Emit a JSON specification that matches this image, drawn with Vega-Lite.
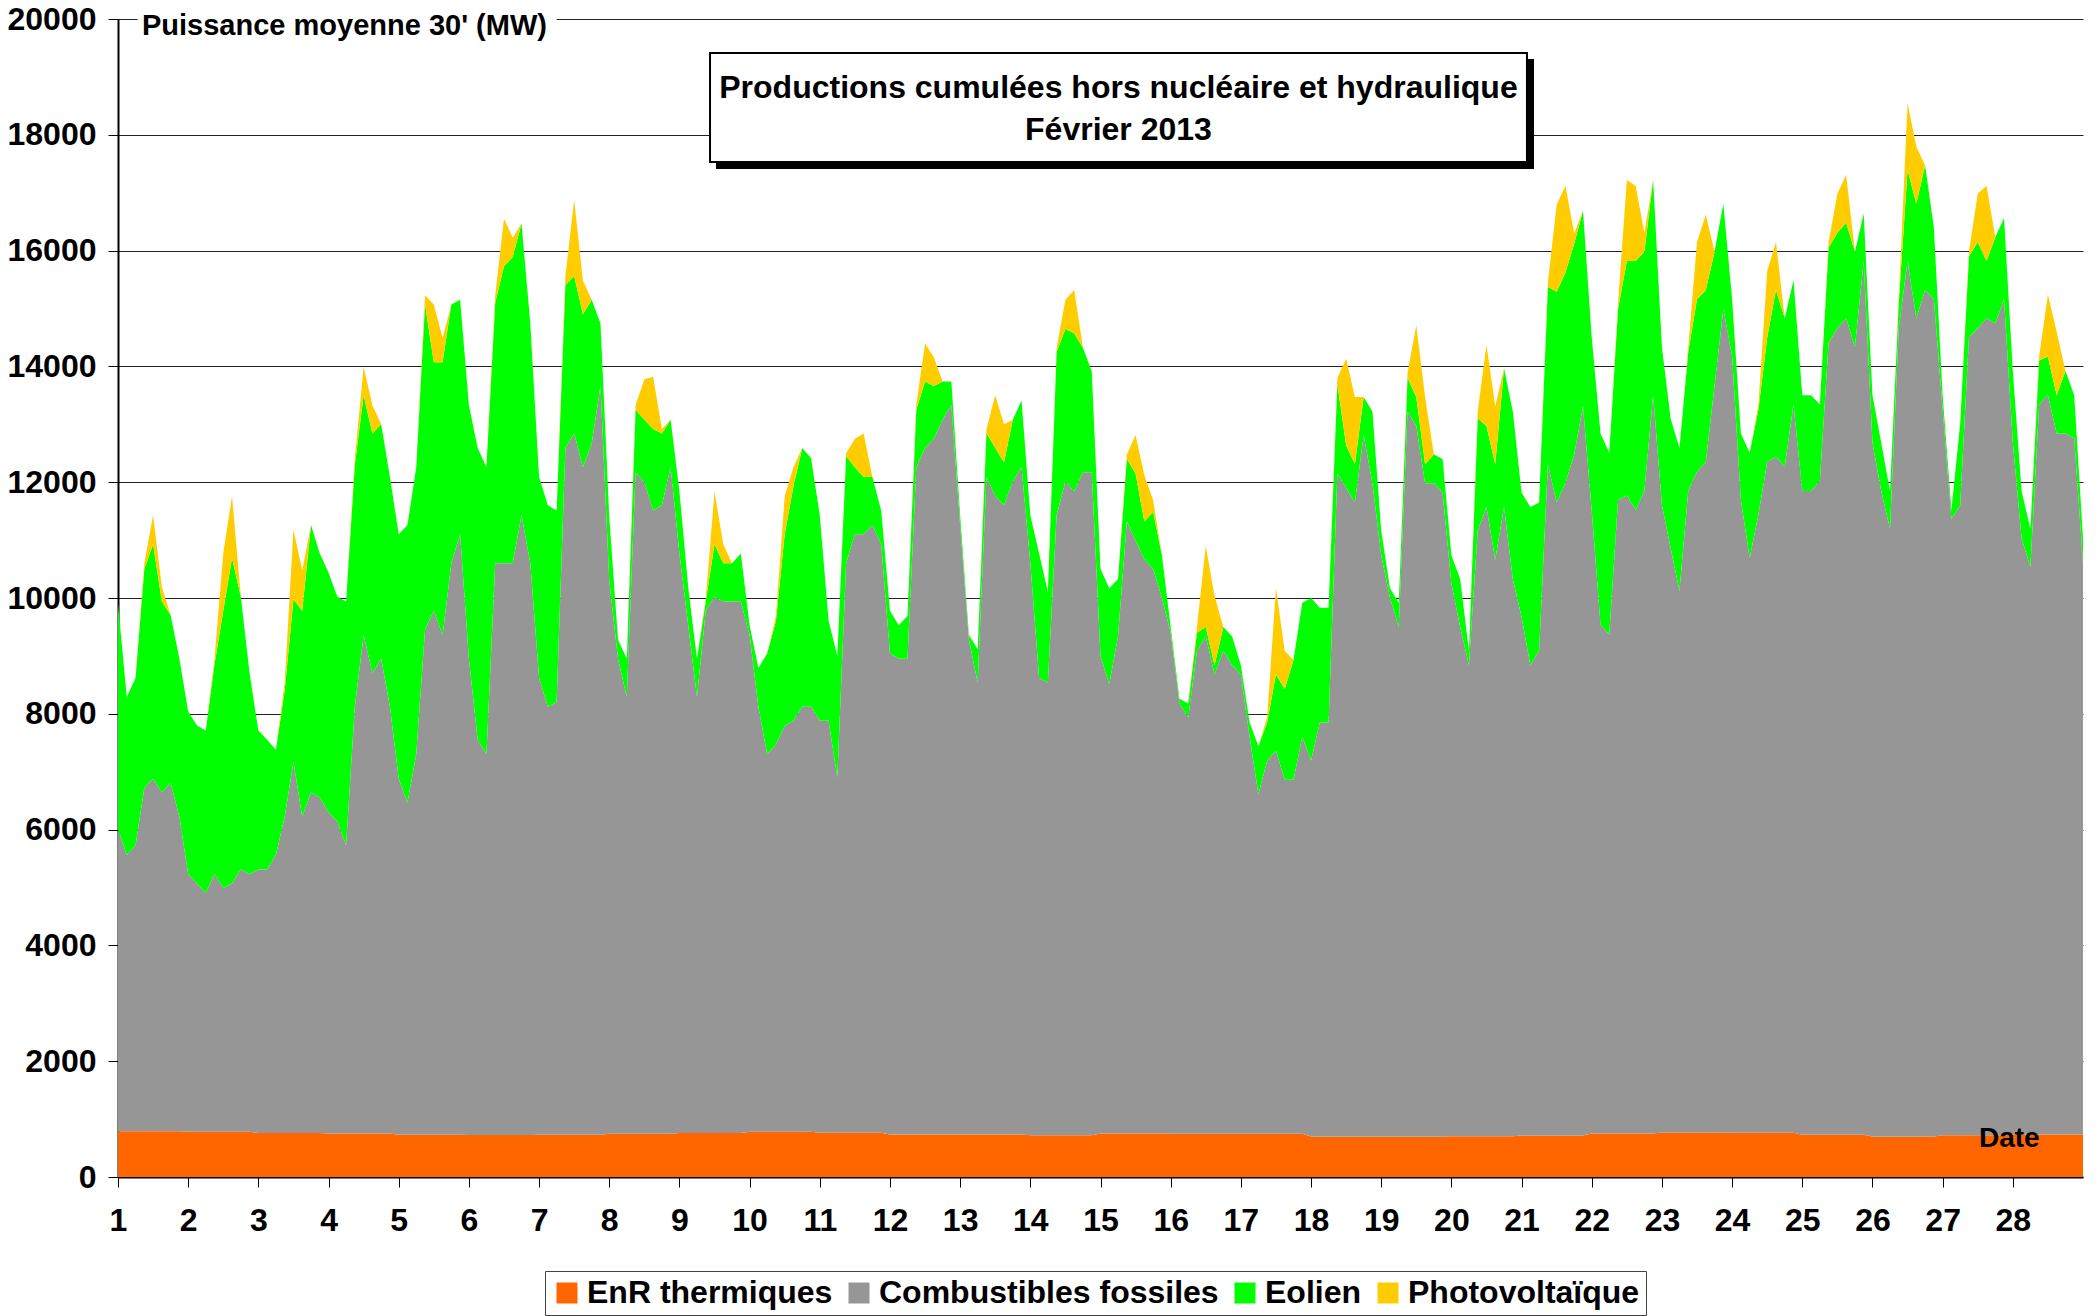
{
"$schema": "https://vega.github.io/schema/vega-lite/v6.json",
"width": 1965, "height": 1158,
"autosize": {"type": "none"},
"padding": {"left": 118, "top": 19, "right": 15, "bottom": 139},
"background": "white",
"config": {"view": {"stroke": null}, "font": "Liberation Sans"},
"datasets": {"prod": [
{"t":1,"a_enr":790,"b_fossile":5210,"c_eolien":3900,"d_pv":0},
{"t":1.125,"a_enr":790,"b_fossile":4770,"c_eolien":2730,"d_pv":0},
{"t":1.25,"a_enr":790,"b_fossile":4940,"c_eolien":2890,"d_pv":0},
{"t":1.375,"a_enr":790,"b_fossile":5930,"c_eolien":3780,"d_pv":100},
{"t":1.5,"a_enr":790,"b_fossile":6090,"c_eolien":4050,"d_pv":500},
{"t":1.625,"a_enr":790,"b_fossile":5850,"c_eolien":3300,"d_pv":250},
{"t":1.75,"a_enr":790,"b_fossile":6010,"c_eolien":2900,"d_pv":0},
{"t":1.875,"a_enr":790,"b_fossile":5430,"c_eolien":2730,"d_pv":0},
{"t":2,"a_enr":780,"b_fossile":4450,"c_eolien":2810,"d_pv":0},
{"t":2.125,"a_enr":780,"b_fossile":4290,"c_eolien":2730,"d_pv":0},
{"t":2.25,"a_enr":780,"b_fossile":4120,"c_eolien":2810,"d_pv":0},
{"t":2.375,"a_enr":780,"b_fossile":4450,"c_eolien":3620,"d_pv":100},
{"t":2.5,"a_enr":780,"b_fossile":4210,"c_eolien":4790,"d_pv":990},
{"t":2.625,"a_enr":780,"b_fossile":4290,"c_eolien":5620,"d_pv":1070},
{"t":2.75,"a_enr":780,"b_fossile":4530,"c_eolien":4710,"d_pv":0},
{"t":2.875,"a_enr":780,"b_fossile":4450,"c_eolien":3470,"d_pv":0},
{"t":3,"a_enr":760,"b_fossile":4550,"c_eolien":2400,"d_pv":0},
{"t":3.125,"a_enr":760,"b_fossile":4550,"c_eolien":2240,"d_pv":0},
{"t":3.25,"a_enr":760,"b_fossile":4800,"c_eolien":1820,"d_pv":0},
{"t":3.375,"a_enr":760,"b_fossile":5460,"c_eolien":2180,"d_pv":140},
{"t":3.5,"a_enr":760,"b_fossile":6410,"c_eolien":2810,"d_pv":1200},
{"t":3.625,"a_enr":760,"b_fossile":5460,"c_eolien":3560,"d_pv":700},
{"t":3.75,"a_enr":760,"b_fossile":5880,"c_eolien":4620,"d_pv":0},
{"t":3.875,"a_enr":760,"b_fossile":5790,"c_eolien":4220,"d_pv":0},
{"t":4,"a_enr":750,"b_fossile":5550,"c_eolien":4140,"d_pv":0},
{"t":4.125,"a_enr":750,"b_fossile":5390,"c_eolien":3880,"d_pv":0},
{"t":4.25,"a_enr":750,"b_fossile":4980,"c_eolien":4210,"d_pv":0},
{"t":4.375,"a_enr":750,"b_fossile":7370,"c_eolien":4180,"d_pv":120},
{"t":4.5,"a_enr":750,"b_fossile":8610,"c_eolien":4140,"d_pv":490},
{"t":4.625,"a_enr":750,"b_fossile":7950,"c_eolien":4140,"d_pv":490},
{"t":4.75,"a_enr":750,"b_fossile":8200,"c_eolien":4050,"d_pv":0},
{"t":4.875,"a_enr":750,"b_fossile":7370,"c_eolien":3970,"d_pv":0},
{"t":5,"a_enr":730,"b_fossile":6150,"c_eolien":4220,"d_pv":0},
{"t":5.125,"a_enr":730,"b_fossile":5740,"c_eolien":4790,"d_pv":0},
{"t":5.25,"a_enr":730,"b_fossile":6570,"c_eolien":4960,"d_pv":0},
{"t":5.375,"a_enr":730,"b_fossile":8720,"c_eolien":5620,"d_pv":160},
{"t":5.5,"a_enr":730,"b_fossile":9050,"c_eolien":4290,"d_pv":1000},
{"t":5.625,"a_enr":730,"b_fossile":8630,"c_eolien":4710,"d_pv":420},
{"t":5.75,"a_enr":730,"b_fossile":9870,"c_eolien":4470,"d_pv":0},
{"t":5.875,"a_enr":730,"b_fossile":10370,"c_eolien":4050,"d_pv":0},
{"t":6,"a_enr":725,"b_fossile":8225,"c_eolien":4380,"d_pv":0},
{"t":6.125,"a_enr":725,"b_fossile":6825,"c_eolien":5040,"d_pv":0},
{"t":6.25,"a_enr":725,"b_fossile":6575,"c_eolien":4960,"d_pv":0},
{"t":6.375,"a_enr":725,"b_fossile":9875,"c_eolien":4500,"d_pv":130},
{"t":6.5,"a_enr":725,"b_fossile":9875,"c_eolien":5130,"d_pv":820},
{"t":6.625,"a_enr":725,"b_fossile":9875,"c_eolien":5290,"d_pv":330},
{"t":6.75,"a_enr":725,"b_fossile":10705,"c_eolien":5040,"d_pv":0},
{"t":6.875,"a_enr":725,"b_fossile":9875,"c_eolien":4140,"d_pv":0},
{"t":7,"a_enr":730,"b_fossile":7890,"c_eolien":3470,"d_pv":0},
{"t":7.125,"a_enr":730,"b_fossile":7390,"c_eolien":3480,"d_pv":0},
{"t":7.25,"a_enr":730,"b_fossile":7470,"c_eolien":3310,"d_pv":0},
{"t":7.375,"a_enr":730,"b_fossile":11860,"c_eolien":2810,"d_pv":160},
{"t":7.5,"a_enr":730,"b_fossile":12110,"c_eolien":2720,"d_pv":1320},
{"t":7.625,"a_enr":730,"b_fossile":11530,"c_eolien":2640,"d_pv":580},
{"t":7.75,"a_enr":730,"b_fossile":11940,"c_eolien":2480,"d_pv":0},
{"t":7.875,"a_enr":730,"b_fossile":12930,"c_eolien":1080,"d_pv":0},
{"t":8,"a_enr":745,"b_fossile":9555,"c_eolien":1100,"d_pv":0},
{"t":8.125,"a_enr":745,"b_fossile":8205,"c_eolien":330,"d_pv":0},
{"t":8.25,"a_enr":745,"b_fossile":7545,"c_eolien":660,"d_pv":0},
{"t":8.375,"a_enr":745,"b_fossile":11425,"c_eolien":1080,"d_pv":80},
{"t":8.5,"a_enr":745,"b_fossile":11255,"c_eolien":1080,"d_pv":700},
{"t":8.625,"a_enr":745,"b_fossile":10765,"c_eolien":1410,"d_pv":900},
{"t":8.75,"a_enr":745,"b_fossile":10855,"c_eolien":1240,"d_pv":80},
{"t":8.875,"a_enr":745,"b_fossile":11515,"c_eolien":820,"d_pv":0},
{"t":9,"a_enr":760,"b_fossile":10010,"c_eolien":1070,"d_pv":0},
{"t":9.125,"a_enr":760,"b_fossile":8770,"c_eolien":660,"d_pv":0},
{"t":9.25,"a_enr":760,"b_fossile":7530,"c_eolien":660,"d_pv":0},
{"t":9.375,"a_enr":760,"b_fossile":9020,"c_eolien":160,"d_pv":50},
{"t":9.5,"a_enr":760,"b_fossile":9260,"c_eolien":910,"d_pv":900},
{"t":9.625,"a_enr":760,"b_fossile":9180,"c_eolien":660,"d_pv":330},
{"t":9.75,"a_enr":760,"b_fossile":9180,"c_eolien":660,"d_pv":0},
{"t":9.875,"a_enr":760,"b_fossile":9180,"c_eolien":830,"d_pv":0},
{"t":10,"a_enr":780,"b_fossile":8580,"c_eolien":170,"d_pv":0},
{"t":10.125,"a_enr":780,"b_fossile":7340,"c_eolien":670,"d_pv":0},
{"t":10.25,"a_enr":780,"b_fossile":6520,"c_eolien":1740,"d_pv":0},
{"t":10.375,"a_enr":780,"b_fossile":6690,"c_eolien":2130,"d_pv":90},
{"t":10.5,"a_enr":780,"b_fossile":7010,"c_eolien":3310,"d_pv":660},
{"t":10.625,"a_enr":780,"b_fossile":7100,"c_eolien":4050,"d_pv":330},
{"t":10.75,"a_enr":780,"b_fossile":7340,"c_eolien":4470,"d_pv":0},
{"t":10.875,"a_enr":780,"b_fossile":7340,"c_eolien":4300,"d_pv":0},
{"t":11,"a_enr":765,"b_fossile":7115,"c_eolien":3550,"d_pv":0},
{"t":11.125,"a_enr":765,"b_fossile":7115,"c_eolien":1730,"d_pv":0},
{"t":11.25,"a_enr":765,"b_fossile":6135,"c_eolien":2100,"d_pv":0},
{"t":11.375,"a_enr":765,"b_fossile":9835,"c_eolien":1850,"d_pv":50},
{"t":11.5,"a_enr":765,"b_fossile":10335,"c_eolien":1160,"d_pv":490},
{"t":11.625,"a_enr":765,"b_fossile":10335,"c_eolien":990,"d_pv":750},
{"t":11.75,"a_enr":765,"b_fossile":10495,"c_eolien":830,"d_pv":0},
{"t":11.875,"a_enr":765,"b_fossile":10165,"c_eolien":580,"d_pv":0},
{"t":12,"a_enr":735,"b_fossile":8305,"c_eolien":740,"d_pv":0},
{"t":12.125,"a_enr":735,"b_fossile":8215,"c_eolien":580,"d_pv":0},
{"t":12.25,"a_enr":735,"b_fossile":8215,"c_eolien":740,"d_pv":0},
{"t":12.375,"a_enr":735,"b_fossile":11525,"c_eolien":990,"d_pv":80},
{"t":12.5,"a_enr":735,"b_fossile":11855,"c_eolien":1150,"d_pv":660},
{"t":12.625,"a_enr":735,"b_fossile":12015,"c_eolien":910,"d_pv":500},
{"t":12.75,"a_enr":735,"b_fossile":12345,"c_eolien":660,"d_pv":0},
{"t":12.875,"a_enr":735,"b_fossile":12595,"c_eolien":410,"d_pv":0},
{"t":13,"a_enr":735,"b_fossile":10525,"c_eolien":170,"d_pv":0},
{"t":13.125,"a_enr":735,"b_fossile":8545,"c_eolien":80,"d_pv":0},
{"t":13.25,"a_enr":735,"b_fossile":7805,"c_eolien":580,"d_pv":0},
{"t":13.375,"a_enr":735,"b_fossile":11355,"c_eolien":760,"d_pv":70},
{"t":13.5,"a_enr":735,"b_fossile":11025,"c_eolien":830,"d_pv":910},
{"t":13.625,"a_enr":735,"b_fossile":10865,"c_eolien":740,"d_pv":660},
{"t":13.75,"a_enr":735,"b_fossile":11275,"c_eolien":1070,"d_pv":0},
{"t":13.875,"a_enr":735,"b_fossile":11525,"c_eolien":1150,"d_pv":0},
{"t":14,"a_enr":720,"b_fossile":9880,"c_eolien":830,"d_pv":0},
{"t":14.125,"a_enr":720,"b_fossile":7900,"c_eolien":2150,"d_pv":0},
{"t":14.25,"a_enr":720,"b_fossile":7820,"c_eolien":1570,"d_pv":0},
{"t":14.375,"a_enr":720,"b_fossile":10710,"c_eolien":2820,"d_pv":70},
{"t":14.5,"a_enr":720,"b_fossile":11290,"c_eolien":2640,"d_pv":500},
{"t":14.625,"a_enr":720,"b_fossile":11120,"c_eolien":2730,"d_pv":750},
{"t":14.75,"a_enr":720,"b_fossile":11450,"c_eolien":2150,"d_pv":0},
{"t":14.875,"a_enr":720,"b_fossile":11450,"c_eolien":1740,"d_pv":0},
{"t":15,"a_enr":750,"b_fossile":8250,"c_eolien":1500,"d_pv":0},
{"t":15.125,"a_enr":750,"b_fossile":7760,"c_eolien":1660,"d_pv":0},
{"t":15.25,"a_enr":750,"b_fossile":8590,"c_eolien":990,"d_pv":0},
{"t":15.375,"a_enr":750,"b_fossile":10570,"c_eolien":1080,"d_pv":80},
{"t":15.5,"a_enr":750,"b_fossile":10240,"c_eolien":1160,"d_pv":660},
{"t":15.625,"a_enr":750,"b_fossile":9910,"c_eolien":660,"d_pv":800},
{"t":15.75,"a_enr":750,"b_fossile":9750,"c_eolien":990,"d_pv":200},
{"t":15.875,"a_enr":750,"b_fossile":9250,"c_eolien":740,"d_pv":0},
{"t":16,"a_enr":745,"b_fossile":8655,"c_eolien":100,"d_pv":0},
{"t":16.125,"a_enr":745,"b_fossile":7435,"c_eolien":80,"d_pv":0},
{"t":16.25,"a_enr":745,"b_fossile":7185,"c_eolien":250,"d_pv":0},
{"t":16.375,"a_enr":745,"b_fossile":8345,"c_eolien":310,"d_pv":100},
{"t":16.5,"a_enr":745,"b_fossile":8595,"c_eolien":160,"d_pv":1400},
{"t":16.625,"a_enr":745,"b_fossile":7935,"c_eolien":160,"d_pv":1200},
{"t":16.75,"a_enr":745,"b_fossile":8345,"c_eolien":410,"d_pv":0},
{"t":16.875,"a_enr":745,"b_fossile":8095,"c_eolien":500,"d_pv":0},
{"t":17,"a_enr":745,"b_fossile":7935,"c_eolien":160,"d_pv":0},
{"t":17.125,"a_enr":745,"b_fossile":6855,"c_eolien":250,"d_pv":0},
{"t":17.25,"a_enr":745,"b_fossile":5865,"c_eolien":830,"d_pv":0},
{"t":17.375,"a_enr":745,"b_fossile":6445,"c_eolien":660,"d_pv":100},
{"t":17.5,"a_enr":745,"b_fossile":6615,"c_eolien":1320,"d_pv":1490},
{"t":17.625,"a_enr":745,"b_fossile":6115,"c_eolien":1570,"d_pv":660},
{"t":17.75,"a_enr":745,"b_fossile":6115,"c_eolien":2070,"d_pv":0},
{"t":17.875,"a_enr":745,"b_fossile":6855,"c_eolien":2320,"d_pv":0},
{"t":18,"a_enr":700,"b_fossile":6490,"c_eolien":2810,"d_pv":0},
{"t":18.125,"a_enr":700,"b_fossile":7150,"c_eolien":1980,"d_pv":0},
{"t":18.25,"a_enr":700,"b_fossile":7150,"c_eolien":1980,"d_pv":0},
{"t":18.375,"a_enr":700,"b_fossile":11450,"c_eolien":1550,"d_pv":100},
{"t":18.5,"a_enr":700,"b_fossile":11200,"c_eolien":740,"d_pv":1490},
{"t":18.625,"a_enr":700,"b_fossile":10950,"c_eolien":660,"d_pv":1160},
{"t":18.75,"a_enr":700,"b_fossile":12110,"c_eolien":660,"d_pv":0},
{"t":18.875,"a_enr":700,"b_fossile":11280,"c_eolien":1240,"d_pv":0},
{"t":19,"a_enr":700,"b_fossile":10040,"c_eolien":420,"d_pv":0},
{"t":19.125,"a_enr":700,"b_fossile":9300,"c_eolien":170,"d_pv":0},
{"t":19.25,"a_enr":700,"b_fossile":8800,"c_eolien":420,"d_pv":0},
{"t":19.375,"a_enr":700,"b_fossile":12520,"c_eolien":580,"d_pv":90},
{"t":19.5,"a_enr":700,"b_fossile":12270,"c_eolien":500,"d_pv":1240},
{"t":19.625,"a_enr":700,"b_fossile":11280,"c_eolien":330,"d_pv":1160},
{"t":19.75,"a_enr":700,"b_fossile":11280,"c_eolien":500,"d_pv":0},
{"t":19.875,"a_enr":700,"b_fossile":11120,"c_eolien":580,"d_pv":0},
{"t":20,"a_enr":705,"b_fossile":9545,"c_eolien":490,"d_pv":0},
{"t":20.125,"a_enr":705,"b_fossile":8795,"c_eolien":830,"d_pv":0},
{"t":20.25,"a_enr":705,"b_fossile":8135,"c_eolien":250,"d_pv":0},
{"t":20.375,"a_enr":705,"b_fossile":10455,"c_eolien":1940,"d_pv":120},
{"t":20.5,"a_enr":705,"b_fossile":10865,"c_eolien":1400,"d_pv":1400},
{"t":20.625,"a_enr":705,"b_fossile":9955,"c_eolien":1650,"d_pv":1000},
{"t":20.75,"a_enr":705,"b_fossile":10865,"c_eolien":2400,"d_pv":0},
{"t":20.875,"a_enr":705,"b_fossile":9625,"c_eolien":2890,"d_pv":0},
{"t":21,"a_enr":715,"b_fossile":8955,"c_eolien":2150,"d_pv":0},
{"t":21.125,"a_enr":715,"b_fossile":8125,"c_eolien":2730,"d_pv":0},
{"t":21.25,"a_enr":715,"b_fossile":8375,"c_eolien":2560,"d_pv":0},
{"t":21.375,"a_enr":715,"b_fossile":11595,"c_eolien":3060,"d_pv":80},
{"t":21.5,"a_enr":715,"b_fossile":10935,"c_eolien":3640,"d_pv":1500},
{"t":21.625,"a_enr":715,"b_fossile":11265,"c_eolien":3640,"d_pv":1500},
{"t":21.75,"a_enr":715,"b_fossile":11765,"c_eolien":3640,"d_pv":180},
{"t":21.875,"a_enr":715,"b_fossile":12595,"c_eolien":3380,"d_pv":0},
{"t":22,"a_enr":750,"b_fossile":10750,"c_eolien":3000,"d_pv":0},
{"t":22.125,"a_enr":750,"b_fossile":8790,"c_eolien":3300,"d_pv":0},
{"t":22.25,"a_enr":750,"b_fossile":8620,"c_eolien":3140,"d_pv":0},
{"t":22.375,"a_enr":750,"b_fossile":10940,"c_eolien":3300,"d_pv":110},
{"t":22.5,"a_enr":750,"b_fossile":11020,"c_eolien":4050,"d_pv":1400},
{"t":22.625,"a_enr":750,"b_fossile":10770,"c_eolien":4300,"d_pv":1300},
{"t":22.75,"a_enr":750,"b_fossile":11100,"c_eolien":4130,"d_pv":330},
{"t":22.875,"a_enr":750,"b_fossile":12750,"c_eolien":3720,"d_pv":0},
{"t":23,"a_enr":770,"b_fossile":10830,"c_eolien":2730,"d_pv":0},
{"t":23.125,"a_enr":770,"b_fossile":10090,"c_eolien":2230,"d_pv":0},
{"t":23.25,"a_enr":770,"b_fossile":9350,"c_eolien":2470,"d_pv":0},
{"t":23.375,"a_enr":770,"b_fossile":11080,"c_eolien":2400,"d_pv":80},
{"t":23.5,"a_enr":770,"b_fossile":11410,"c_eolien":2980,"d_pv":990},
{"t":23.625,"a_enr":770,"b_fossile":11580,"c_eolien":2970,"d_pv":1300},
{"t":23.75,"a_enr":770,"b_fossile":12900,"c_eolien":2310,"d_pv":0},
{"t":23.875,"a_enr":770,"b_fossile":14220,"c_eolien":1820,"d_pv":0},
{"t":24,"a_enr":765,"b_fossile":13405,"c_eolien":990,"d_pv":0},
{"t":24.125,"a_enr":765,"b_fossile":10925,"c_eolien":1150,"d_pv":0},
{"t":24.25,"a_enr":765,"b_fossile":9925,"c_eolien":1820,"d_pv":0},
{"t":24.375,"a_enr":765,"b_fossile":10675,"c_eolien":1810,"d_pv":90},
{"t":24.5,"a_enr":765,"b_fossile":11585,"c_eolien":2150,"d_pv":1150},
{"t":24.625,"a_enr":765,"b_fossile":11675,"c_eolien":2880,"d_pv":830},
{"t":24.75,"a_enr":765,"b_fossile":11505,"c_eolien":2560,"d_pv":0},
{"t":24.875,"a_enr":765,"b_fossile":12575,"c_eolien":2150,"d_pv":0},
{"t":25,"a_enr":730,"b_fossile":11120,"c_eolien":1650,"d_pv":0},
{"t":25.125,"a_enr":730,"b_fossile":11120,"c_eolien":1650,"d_pv":0},
{"t":25.25,"a_enr":730,"b_fossile":11290,"c_eolien":1320,"d_pv":0},
{"t":25.375,"a_enr":730,"b_fossile":13680,"c_eolien":1640,"d_pv":100},
{"t":25.5,"a_enr":730,"b_fossile":13930,"c_eolien":1650,"d_pv":670},
{"t":25.625,"a_enr":730,"b_fossile":14100,"c_eolien":1650,"d_pv":830},
{"t":25.75,"a_enr":730,"b_fossile":13600,"c_eolien":1650,"d_pv":0},
{"t":25.875,"a_enr":730,"b_fossile":15090,"c_eolien":820,"d_pv":0},
{"t":26,"a_enr":700,"b_fossile":11980,"c_eolien":820,"d_pv":0},
{"t":26.125,"a_enr":700,"b_fossile":11150,"c_eolien":830,"d_pv":0},
{"t":26.25,"a_enr":700,"b_fossile":10490,"c_eolien":660,"d_pv":0},
{"t":26.375,"a_enr":700,"b_fossile":13960,"c_eolien":440,"d_pv":60},
{"t":26.5,"a_enr":700,"b_fossile":15120,"c_eolien":1570,"d_pv":1160},
{"t":26.625,"a_enr":700,"b_fossile":14130,"c_eolien":1980,"d_pv":990},
{"t":26.75,"a_enr":700,"b_fossile":14620,"c_eolien":2150,"d_pv":0},
{"t":26.875,"a_enr":700,"b_fossile":14460,"c_eolien":1240,"d_pv":0},
{"t":27,"a_enr":720,"b_fossile":12540,"c_eolien":240,"d_pv":0},
{"t":27.125,"a_enr":720,"b_fossile":10640,"c_eolien":160,"d_pv":0},
{"t":27.25,"a_enr":720,"b_fossile":10880,"c_eolien":1410,"d_pv":0},
{"t":27.375,"a_enr":720,"b_fossile":13780,"c_eolien":1400,"d_pv":80},
{"t":27.5,"a_enr":720,"b_fossile":13940,"c_eolien":1490,"d_pv":830},
{"t":27.625,"a_enr":720,"b_fossile":14110,"c_eolien":990,"d_pv":1300},
{"t":27.75,"a_enr":720,"b_fossile":14020,"c_eolien":1490,"d_pv":0},
{"t":27.875,"a_enr":720,"b_fossile":14440,"c_eolien":1400,"d_pv":0},
{"t":28,"a_enr":735,"b_fossile":11945,"c_eolien":1240,"d_pv":0},
{"t":28.125,"a_enr":735,"b_fossile":10295,"c_eolien":820,"d_pv":0},
{"t":28.25,"a_enr":735,"b_fossile":9795,"c_eolien":660,"d_pv":0},
{"t":28.375,"a_enr":735,"b_fossile":12605,"c_eolien":760,"d_pv":70},
{"t":28.5,"a_enr":735,"b_fossile":12765,"c_eolien":670,"d_pv":1070},
{"t":28.625,"a_enr":735,"b_fossile":12105,"c_eolien":660,"d_pv":1100},
{"t":28.75,"a_enr":735,"b_fossile":12105,"c_eolien":1080,"d_pv":0},
{"t":28.875,"a_enr":735,"b_fossile":12025,"c_eolien":740,"d_pv":0},
{"t":29,"a_enr":735,"b_fossile":9875,"c_eolien":420,"d_pv":0}
]},
"layer": [
{
"data": {"name": "prod"},
"transform": [{"fold": ["a_enr","b_fossile","c_eolien","d_pv"], "as": ["filiere","mw"]}],
"mark": {"type": "area", "interpolate": "linear"},
"encoding": {
"x": {"field": "t", "type": "quantitative",
"scale": {"domain": [1,29], "nice": false, "zero": false},
"axis": {"title": null, "grid": false,
"values": [1,1.5,2,2.5,3,3.5,4,4.5,5,5.5,6,6.5,7,7.5,8,8.5,9,9.5,10,10.5,11,11.5,12,12.5,13,13.5,14,14.5,15,15.5,16,16.5,17,17.5,18,18.5,19,19.5,20,20.5,21,21.5,22,22.5,23,23.5,24,24.5,25,25.5,26,26.5,27,27.5,28,28.5],
"labelExpr": "datum.value % 1 == 0 ? format(datum.value, 'd') : ''",
"tickSize": 10, "tickColor": "black", "domainColor": "black", "domainWidth": 2,
"labelFont": "Liberation Sans", "labelFontWeight": "bold", "labelFontSize": 32, "labelColor": "black",
"labelPadding": 18, "labelFlush": false, "labelOverlap": false}},
"y": {"field": "mw", "type": "quantitative", "stack": "zero",
"scale": {"domain": [0,20000], "nice": false},
"axis": {"title": null, "grid": true, "gridColor": "#222", "gridWidth": 1, "format": "d",
"values": [0,2000,4000,6000,8000,10000,12000,14000,16000,18000,20000],
"tickSize": 10, "tickColor": "black", "domainColor": "black", "domainWidth": 2,
"labelFont": "Liberation Sans", "labelFontWeight": "bold", "labelFontSize": 32, "labelColor": "black",
"labelPadding": 12}},
"color": {"field": "filiere", "type": "nominal",
"scale": {"domain": ["a_enr","b_fossile","c_eolien","d_pv"], "range": ["#FF6600","#969696","#00FF00","#FFCC00"]},
"legend": {"orient": "none", "legendX": 427, "legendY": 1252, "direction": "horizontal", "columns": 4, "title": null,
"symbolType": "square", "symbolSize": 441, "symbolStrokeWidth": 0, "symbolOpacity": 1,
"labelFont": "Liberation Sans", "labelFontSize": 32, "labelFontWeight": "bold", "labelColor": "black",
"labelOffset": 4, "columnPadding": 10, "padding": 6, "strokeColor": "#444", "fillColor": "white", "labelLimit": 600,
"labelExpr": "datum.label == 'a_enr' ? 'EnR thermiques' : datum.label == 'b_fossile' ? 'Combustibles fossiles' : datum.label == 'c_eolien' ? 'Eolien' : 'Photovoltaïque'"}},
"order": {"field": "filiere", "sort": "ascending"}
}
},
{
"data": {"values": [{}]},
"mark": {"type": "rect", "color": "white"},
"encoding": {"x": {"datum": 1.28, "type": "quantitative"}, "x2": {"datum": 7.25}, "y": {"datum": 19450, "type": "quantitative"}, "y2": {"datum": 20400}}
},
{
"data": {"values": [{}]},
"mark": {"type": "text", "text": "Puissance moyenne 30' (MW)", "align": "left", "baseline": "middle", "font": "Liberation Sans", "fontWeight": "bold", "fontSize": 29, "color": "black"},
"encoding": {"x": {"datum": 1.342, "type": "quantitative"}, "y": {"datum": 19879, "type": "quantitative"}}
},
{
"data": {"values": [{}]},
"mark": {"type": "rect", "color": "black"},
"encoding": {"x": {"datum": 9.521, "type": "quantitative"}, "x2": {"datum": 21.177}, "y": {"datum": 17409, "type": "quantitative"}, "y2": {"datum": 19309}}
},
{
"data": {"values": [{}]},
"mark": {"type": "rect", "fill": "white", "stroke": "black", "strokeWidth": 2},
"encoding": {"x": {"datum": 9.436, "type": "quantitative"}, "x2": {"datum": 21.077}, "y": {"datum": 17530, "type": "quantitative"}, "y2": {"datum": 19413}}
},
{
"data": {"values": [{}]},
"mark": {"type": "text", "text": "Productions cumulées hors nucléaire et hydraulique", "align": "center", "baseline": "middle", "font": "Liberation Sans", "fontWeight": "bold", "fontSize": 32, "color": "black"},
"encoding": {"x": {"datum": 15.256, "type": "quantitative"}, "y": {"datum": 18808, "type": "quantitative"}}
},
{
"data": {"values": [{}]},
"mark": {"type": "text", "text": "Février  2013", "align": "center", "baseline": "middle", "font": "Liberation Sans", "fontWeight": "bold", "fontSize": 32, "color": "black"},
"encoding": {"x": {"datum": 15.256, "type": "quantitative"}, "y": {"datum": 18083, "type": "quantitative"}}
},
{
"data": {"values": [{}]},
"mark": {"type": "text", "text": "Date", "align": "center", "baseline": "middle", "font": "Liberation Sans", "fontWeight": "bold", "fontSize": 28, "color": "black"},
"encoding": {"x": {"datum": 27.95, "type": "quantitative"}, "y": {"datum": 656, "type": "quantitative"}}
}
]
}
